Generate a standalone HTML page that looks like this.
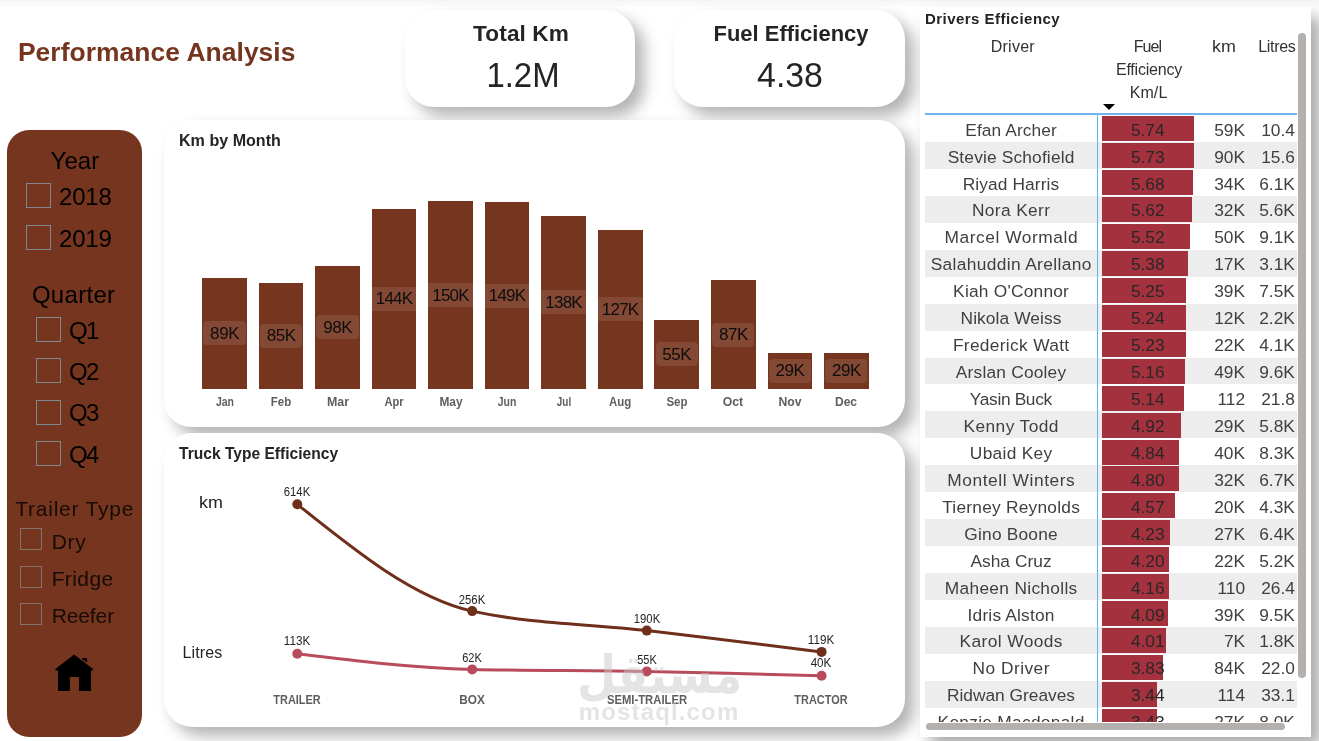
<!DOCTYPE html>
<html lang="en"><head><meta charset="utf-8"><title>Performance Analysis</title>
<style>
html,body{margin:0;padding:0;}
body{width:1319px;height:741px;overflow:hidden;background:#fff;position:relative;font-family:"Liberation Sans","DejaVu Sans",sans-serif;}
.t{position:absolute;white-space:nowrap;}
.abs{position:absolute;}
.card{position:absolute;background:#fff;box-shadow:9px 9px 15px rgba(0,0,0,.30);}
.cb{position:absolute;width:22px;height:22px;border:1px solid #8f8f8f;box-sizing:border-box;}
</style></head><body>

<div class="abs" style="left:0;top:0;width:1319px;height:7px;background:linear-gradient(#f2f2f2 0,#f8f8f8 2px,#fcfcfc 6px,#fff 7px)"></div>
<div class="t" style="top:38.85px;font-size:26.4px;line-height:26.4px;font-weight:700;color:#76351f;letter-spacing:0.066px;left:17.94px;">Performance Analysis</div>
<div class="card" style="left:405px;top:9.7px;width:230px;height:97px;border-radius:29px"></div>
<div class="card" style="left:674px;top:9.7px;width:231px;height:97px;border-radius:29px"></div>
<div class="t" style="top:22.67px;font-size:22.6px;line-height:22.6px;font-weight:700;color:#252423;letter-spacing:0.115px;left:521.06px;transform:translateX(-50%);transform-origin:center center;">Total Km</div>
<div class="t" style="top:58.35px;font-size:35.5px;line-height:35.5px;font-weight:400;color:#252423;left:522.70px;transform:translateX(-50%) scaleX(0.9266);transform-origin:center center;">1.2M</div>
<div class="t" style="top:22.57px;font-size:22.6px;line-height:22.6px;font-weight:700;color:#252423;left:791.00px;transform:translateX(-50%) scaleX(0.9715);transform-origin:center center;">Fuel Efficiency</div>
<div class="t" style="top:58.05px;font-size:35.5px;line-height:35.5px;font-weight:400;color:#252423;left:790.20px;transform:translateX(-50%) scaleX(0.9539);transform-origin:center center;">4.38</div>
<div class="abs" style="left:7px;top:130px;width:135px;height:606.8px;border-radius:22px;background:#76351f"></div>
<div class="t" style="top:149.28px;font-size:24px;line-height:24px;font-weight:400;color:#000;letter-spacing:0.142px;left:74.97px;transform:translateX(-50%);transform-origin:center center;">Year</div>
<div class="t" style="top:185.28px;font-size:24px;line-height:24px;font-weight:400;color:#000;letter-spacing:-0.19px;left:59.04px;">2018</div>
<div class="t" style="top:226.58px;font-size:24px;line-height:24px;font-weight:400;color:#000;letter-spacing:-0.19px;left:59.04px;">2019</div>
<div class="cb" style="left:26px;top:183px;width:25px;height:25px;border:1.5px solid #818990;"></div>
<div class="cb" style="left:26px;top:224.5px;width:25px;height:25px;border:1.5px solid #818990;"></div>
<div class="t" style="top:282.88px;font-size:24px;line-height:24px;font-weight:400;color:#000;letter-spacing:0.309px;left:73.65px;transform:translateX(-50%);transform-origin:center center;">Quarter</div>
<div class="t" style="top:318.98px;font-size:24px;line-height:24px;font-weight:400;color:#000;letter-spacing:-1.696px;left:69.04px;">Q1</div>
<div class="cb" style="left:36px;top:317.0px;width:25px;height:25px;border:1.5px solid #818990;"></div>
<div class="t" style="top:360.23px;font-size:24px;line-height:24px;font-weight:400;color:#000;letter-spacing:-1.696px;left:69.04px;">Q2</div>
<div class="cb" style="left:36px;top:358.4px;width:25px;height:25px;border:1.5px solid #818990;"></div>
<div class="t" style="top:401.48px;font-size:24px;line-height:24px;font-weight:400;color:#000;letter-spacing:-1.696px;left:69.04px;">Q3</div>
<div class="cb" style="left:36px;top:399.8px;width:25px;height:25px;border:1.5px solid #818990;"></div>
<div class="t" style="top:442.73px;font-size:24px;line-height:24px;font-weight:400;color:#000;letter-spacing:-1.696px;left:69.04px;">Q4</div>
<div class="cb" style="left:36px;top:441.2px;width:25px;height:25px;border:1.5px solid #818990;"></div>
<div class="t" style="top:497.62px;font-size:21px;line-height:21px;font-weight:400;color:#170b06;letter-spacing:0.761px;left:74.68px;transform:translateX(-50%);transform-origin:center center;">Trailer Type</div>
<div class="t" style="top:530.62px;font-size:21px;line-height:21px;font-weight:400;color:#170b06;letter-spacing:0.711px;left:51.66px;">Dry</div>
<div class="cb" style="left:20px;top:528.0px;border-color:#86726c"></div>
<div class="t" style="top:567.62px;font-size:21px;line-height:21px;font-weight:400;color:#170b06;letter-spacing:0.391px;left:51.66px;">Fridge</div>
<div class="cb" style="left:20px;top:565.7px;border-color:#86726c"></div>
<div class="t" style="top:604.62px;font-size:21px;line-height:21px;font-weight:400;color:#170b06;letter-spacing:-0.11px;left:51.66px;">Reefer</div>
<div class="cb" style="left:20px;top:603.4px;border-color:#86726c"></div>
<svg class="abs" style="left:50px;top:650px" width="50" height="45" viewBox="50 650 50 45">
<path d="M74.1 654.4 L55 669.3 L56.2 671.1 L58 669.8 L58 690.9 L69.9 690.9 L69.9 676.9 L79 676.9 L79 690.9 L91 690.9 L91 669.8 L92.2 671.1 L93.3 669.3 Z" fill="#000"/>
<path d="M82.1 658 L87.1 658 L87.1 662.5 L82.1 659.3 Z" fill="#000"/></svg>
<div class="card" style="left:164px;top:120px;width:741px;height:307.4px;border-radius:27px"></div>
<div class="t" style="top:132.26px;font-size:17.3px;line-height:17.3px;font-weight:700;color:#252423;left:179.21px;transform:scaleX(0.931);transform-origin:left center;">Km by Month</div>
<div class="abs" style="left:202.2px;top:277.5px;width:44.7px;height:111.4px;background:#76351f"></div>
<div class="abs" style="left:203.3px;top:321.2px;width:42.4px;height:24px;border-radius:4px;background:rgba(255,255,255,.10)"></div>
<div class="t" style="top:324.71px;font-size:17px;line-height:17px;font-weight:400;color:#0d0d0d;letter-spacing:-0.444px;left:224.58px;transform:translateX(-50%);transform-origin:center center;">89K</div>
<div class="t" style="top:395.84px;font-size:12px;line-height:12px;font-weight:700;color:#605e5c;left:224.55px;transform:translateX(-50%) scaleX(0.8723);transform-origin:center center;">Jan</div>
<div class="abs" style="left:258.7px;top:282.8px;width:44.7px;height:106.1px;background:#76351f"></div>
<div class="abs" style="left:259.8px;top:323.9px;width:42.4px;height:24px;border-radius:4px;background:rgba(255,255,255,.10)"></div>
<div class="t" style="top:327.36px;font-size:17px;line-height:17px;font-weight:400;color:#0d0d0d;letter-spacing:-0.444px;left:281.11px;transform:translateX(-50%);transform-origin:center center;">85K</div>
<div class="t" style="top:395.84px;font-size:12px;line-height:12px;font-weight:700;color:#605e5c;left:281.08px;transform:translateX(-50%) scaleX(0.9571);transform-origin:center center;">Feb</div>
<div class="abs" style="left:315.3px;top:266.0px;width:44.7px;height:122.9px;background:#76351f"></div>
<div class="abs" style="left:316.4px;top:315.4px;width:42.4px;height:24px;border-radius:4px;background:rgba(255,255,255,.10)"></div>
<div class="t" style="top:318.96px;font-size:17px;line-height:17px;font-weight:400;color:#0d0d0d;letter-spacing:-0.444px;left:337.64px;transform:translateX(-50%);transform-origin:center center;">98K</div>
<div class="t" style="top:395.84px;font-size:12px;line-height:12px;font-weight:700;color:#605e5c;left:337.61px;transform:translateX(-50%) scaleX(1.0353);transform-origin:center center;">Mar</div>
<div class="abs" style="left:371.8px;top:208.9px;width:44.7px;height:180.0px;background:#76351f"></div>
<div class="abs" style="left:371.8px;top:286.9px;width:44.7px;height:24px;background:rgba(255,255,255,.10)"></div>
<div class="t" style="top:290.41px;font-size:17px;line-height:17px;font-weight:400;color:#0d0d0d;letter-spacing:-0.781px;left:394.00px;transform:translateX(-50%);transform-origin:center center;">144K</div>
<div class="t" style="top:395.84px;font-size:12px;line-height:12px;font-weight:700;color:#605e5c;left:394.14px;transform:translateX(-50%) scaleX(0.9286);transform-origin:center center;">Apr</div>
<div class="abs" style="left:428.3px;top:201.1px;width:44.7px;height:187.8px;background:#76351f"></div>
<div class="abs" style="left:428.3px;top:283.0px;width:44.7px;height:24px;background:rgba(255,255,255,.10)"></div>
<div class="t" style="top:286.51px;font-size:17px;line-height:17px;font-weight:400;color:#0d0d0d;letter-spacing:-0.781px;left:450.53px;transform:translateX(-50%);transform-origin:center center;">150K</div>
<div class="t" style="top:395.84px;font-size:12px;line-height:12px;font-weight:700;color:#605e5c;left:450.67px;transform:translateX(-50%) scaleX(0.9918);transform-origin:center center;">May</div>
<div class="abs" style="left:484.8px;top:202.2px;width:44.7px;height:186.7px;background:#76351f"></div>
<div class="abs" style="left:484.8px;top:283.5px;width:44.7px;height:24px;background:rgba(255,255,255,.10)"></div>
<div class="t" style="top:287.06px;font-size:17px;line-height:17px;font-weight:400;color:#0d0d0d;letter-spacing:-0.781px;left:507.06px;transform:translateX(-50%);transform-origin:center center;">149K</div>
<div class="t" style="top:395.84px;font-size:12px;line-height:12px;font-weight:700;color:#605e5c;left:507.20px;transform:translateX(-50%) scaleX(0.8737);transform-origin:center center;">Jun</div>
<div class="abs" style="left:541.4px;top:215.6px;width:44.7px;height:173.3px;background:#76351f"></div>
<div class="abs" style="left:541.4px;top:290.2px;width:44.7px;height:24px;background:rgba(255,255,255,.10)"></div>
<div class="t" style="top:293.76px;font-size:17px;line-height:17px;font-weight:400;color:#0d0d0d;letter-spacing:-0.781px;left:563.59px;transform:translateX(-50%);transform-origin:center center;">138K</div>
<div class="t" style="top:395.84px;font-size:12px;line-height:12px;font-weight:700;color:#605e5c;left:563.73px;transform:translateX(-50%) scaleX(0.8304);transform-origin:center center;">Jul</div>
<div class="abs" style="left:597.9px;top:229.8px;width:44.7px;height:159.1px;background:#76351f"></div>
<div class="abs" style="left:597.9px;top:297.4px;width:44.7px;height:24px;background:rgba(255,255,255,.10)"></div>
<div class="t" style="top:300.86px;font-size:17px;line-height:17px;font-weight:400;color:#0d0d0d;letter-spacing:-0.781px;left:620.12px;transform:translateX(-50%);transform-origin:center center;">127K</div>
<div class="t" style="top:395.84px;font-size:12px;line-height:12px;font-weight:700;color:#605e5c;left:620.26px;transform:translateX(-50%) scaleX(0.9523);transform-origin:center center;">Aug</div>
<div class="abs" style="left:654.4px;top:319.9px;width:44.7px;height:69.0px;background:#76351f"></div>
<div class="abs" style="left:655.5px;top:342.4px;width:42.4px;height:24px;border-radius:4px;background:rgba(255,255,255,.10)"></div>
<div class="t" style="top:345.91px;font-size:17px;line-height:17px;font-weight:400;color:#0d0d0d;letter-spacing:-0.444px;left:676.82px;transform:translateX(-50%);transform-origin:center center;">55K</div>
<div class="t" style="top:395.84px;font-size:12px;line-height:12px;font-weight:700;color:#605e5c;left:676.79px;transform:translateX(-50%) scaleX(0.9597);transform-origin:center center;">Sep</div>
<div class="abs" style="left:711.0px;top:280.1px;width:44.7px;height:108.8px;background:#76351f"></div>
<div class="abs" style="left:712.1px;top:322.5px;width:42.4px;height:24px;border-radius:4px;background:rgba(255,255,255,.10)"></div>
<div class="t" style="top:326.01px;font-size:17px;line-height:17px;font-weight:400;color:#0d0d0d;letter-spacing:-0.444px;left:733.35px;transform:translateX(-50%);transform-origin:center center;">87K</div>
<div class="t" style="top:395.84px;font-size:12px;line-height:12px;font-weight:700;color:#605e5c;left:733.32px;transform:translateX(-50%) scaleX(1.0187);transform-origin:center center;">Oct</div>
<div class="abs" style="left:767.5px;top:352.9px;width:44.7px;height:36.0px;background:#76351f"></div>
<div class="abs" style="left:768.6px;top:358.9px;width:42.4px;height:24px;border-radius:4px;background:rgba(255,255,255,.10)"></div>
<div class="t" style="top:362.41px;font-size:17px;line-height:17px;font-weight:400;color:#0d0d0d;letter-spacing:-0.444px;left:789.88px;transform:translateX(-50%);transform-origin:center center;">29K</div>
<div class="t" style="top:395.84px;font-size:12px;line-height:12px;font-weight:700;color:#605e5c;left:789.85px;transform:translateX(-50%) scaleX(1.018);transform-origin:center center;">Nov</div>
<div class="abs" style="left:824.0px;top:352.9px;width:44.7px;height:36.0px;background:#76351f"></div>
<div class="abs" style="left:825.1px;top:358.9px;width:42.4px;height:24px;border-radius:4px;background:rgba(255,255,255,.10)"></div>
<div class="t" style="top:362.41px;font-size:17px;line-height:17px;font-weight:400;color:#0d0d0d;letter-spacing:-0.444px;left:846.41px;transform:translateX(-50%);transform-origin:center center;">29K</div>
<div class="t" style="top:395.84px;font-size:12px;line-height:12px;font-weight:700;color:#605e5c;left:846.38px;transform:translateX(-50%) scaleX(1.0022);transform-origin:center center;">Dec</div>
<div class="card" style="left:164px;top:433px;width:741px;height:293.9px;border-radius:28px"></div>
<div class="t" style="top:445.16px;font-size:17.3px;line-height:17.3px;font-weight:700;color:#252423;left:178.91px;transform:scaleX(0.9018);transform-origin:left center;">Truck Type Efficiency</div>
<div class="t" style="top:494.86px;font-size:16px;line-height:16px;font-weight:400;color:#252423;left:198.76px;transform:scaleX(1.12);transform-origin:left center;">km</div>
<div class="t" style="top:644.86px;font-size:16px;line-height:16px;font-weight:400;color:#252423;letter-spacing:0.091px;left:182.56px;">Litres</div>
<svg class="abs" style="left:0;top:0" width="1319" height="741" viewBox="0 0 1319 741"><path d="M297.3,504.3 C355.6,551.2 413.9,598.1 472.2,611.1 C530.4,624.1 588.6,623.8 646.8,630.6 C705.1,637.4 763.3,644.7 821.6,651.9" fill="none" stroke="#6f2f1a" stroke-width="3"/><path d="M297.3,653.7 C355.6,660.9 413.9,668.1 472.2,669.4 C530.4,670.7 588.6,670.3 646.8,671.4 C705.1,672.5 763.3,674.1 821.6,675.8" fill="none" stroke="#b84c5c" stroke-width="3"/><circle cx="297.3" cy="504.3" r="5" fill="#6f2f1a"/><circle cx="472.2" cy="611.1" r="5" fill="#6f2f1a"/><circle cx="646.8" cy="630.6" r="5" fill="#6f2f1a"/><circle cx="821.6" cy="651.9" r="5" fill="#6f2f1a"/><circle cx="297.3" cy="653.7" r="5" fill="#b84c5c"/><circle cx="472.2" cy="669.4" r="5" fill="#b84c5c"/><circle cx="646.8" cy="671.4" r="5" fill="#b84c5c"/><circle cx="821.6" cy="675.8" r="5" fill="#b84c5c"/></svg>
<div class="t" style="top:485.84px;font-size:12px;line-height:12px;font-weight:400;color:#252423;left:297.10px;transform:translateX(-50%) scaleX(0.9422);transform-origin:center center;">614K</div>
<div class="t" style="top:593.84px;font-size:12px;line-height:12px;font-weight:400;color:#252423;left:472.00px;transform:translateX(-50%) scaleX(0.9422);transform-origin:center center;">256K</div>
<div class="t" style="top:612.74px;font-size:12px;line-height:12px;font-weight:400;color:#252423;left:646.60px;transform:translateX(-50%) scaleX(0.9422);transform-origin:center center;">190K</div>
<div class="t" style="top:634.34px;font-size:12px;line-height:12px;font-weight:400;color:#252423;left:821.40px;transform:translateX(-50%) scaleX(0.9742);transform-origin:center center;">119K</div>
<div class="t" style="top:635.34px;font-size:12px;line-height:12px;font-weight:400;color:#252423;left:297.10px;transform:translateX(-50%) scaleX(0.9742);transform-origin:center center;">113K</div>
<div class="t" style="top:651.84px;font-size:12px;line-height:12px;font-weight:400;color:#252423;left:472.00px;transform:translateX(-50%) scaleX(0.9219);transform-origin:center center;">62K</div>
<div class="t" style="top:653.54px;font-size:12px;line-height:12px;font-weight:400;color:#252423;left:646.60px;transform:translateX(-50%) scaleX(0.9121);transform-origin:center center;">55K</div>
<div class="t" style="top:657.34px;font-size:12px;line-height:12px;font-weight:400;color:#252423;left:821.40px;transform:translateX(-50%) scaleX(0.971);transform-origin:center center;">40K</div>
<div class="t" style="top:693.94px;font-size:12px;line-height:12px;font-weight:700;color:#605e5c;left:297.10px;transform:translateX(-50%) scaleX(0.9111);transform-origin:center center;">TRAILER</div>
<div class="t" style="top:693.94px;font-size:12px;line-height:12px;font-weight:700;color:#605e5c;left:472.00px;transform:translateX(-50%) scaleX(0.9823);transform-origin:center center;">BOX</div>
<div class="t" style="top:693.94px;font-size:12px;line-height:12px;font-weight:700;color:#605e5c;left:646.60px;transform:translateX(-50%) scaleX(0.9387);transform-origin:center center;">SEMI-TRAILER</div>
<div class="t" style="top:693.94px;font-size:12px;line-height:12px;font-weight:700;color:#605e5c;left:821.40px;transform:translateX(-50%) scaleX(0.9116);transform-origin:center center;">TRACTOR</div>
<div class="t" style="left:576.5px;top:642.1px;font-size:56px;line-height:70px;font-weight:700;color:rgb(200,200,200);opacity:.48;font-family:'DejaVu Sans',sans-serif;transform-origin:0 0;transform:scale(0.806,0.945)" dir="rtl">مستقل</div>
<div class="t" style="top:699.58px;font-size:24px;line-height:24px;font-weight:700;color:rgb(200,200,200);letter-spacing:1.149px;left:659.07px;transform:translateX(-50%);transform-origin:center center;opacity:.48;">mostaql.com</div>
<div class="card" style="left:920px;top:6.6px;width:391.2px;height:730.4px;box-shadow:10px 10px 15px rgba(0,0,0,.33)"></div>
<div class="t" style="top:11.30px;font-size:15px;line-height:15px;font-weight:700;color:#252423;letter-spacing:0.475px;left:924.90px;">Drivers Efficiency</div>
<div class="t" style="top:39.46px;font-size:16px;line-height:16px;font-weight:400;color:#333231;letter-spacing:0.243px;left:1012.82px;transform:translateX(-50%);transform-origin:center center;">Driver</div>
<div class="t" style="top:39.26px;font-size:16px;line-height:16px;font-weight:400;color:#333231;letter-spacing:-0.948px;left:1147.43px;transform:translateX(-50%);transform-origin:center center;">Fuel</div>
<div class="t" style="top:62.16px;font-size:16px;line-height:16px;font-weight:400;color:#333231;letter-spacing:-0.2px;left:1149.00px;transform:translateX(-50%);transform-origin:center center;">Efficiency</div>
<div class="t" style="top:84.86px;font-size:16px;line-height:16px;font-weight:400;color:#333231;letter-spacing:0.079px;left:1148.54px;transform:translateX(-50%);transform-origin:center center;">Km/L</div>
<div class="t" style="top:39.26px;font-size:16px;line-height:16px;font-weight:400;color:#333231;left:1224.30px;transform:translateX(-50%) scaleX(1.12);transform-origin:center center;">km</div>
<div class="t" style="top:39.26px;font-size:16px;line-height:16px;font-weight:400;color:#333231;letter-spacing:-0.349px;left:1276.83px;transform:translateX(-50%);transform-origin:center center;">Litres</div>
<div class="abs" style="left:1103px;top:104px;width:0;height:0;border-left:6px solid transparent;border-right:6px solid transparent;border-top:6px solid #000"></div>
<div class="abs" style="left:920px;top:114px;width:378px;height:608px;overflow:hidden">
<div class="abs" style="left:182.3px;top:2.10px;width:91.6px;height:25px;background:#a4323e"></div>
<div class="t" style="top:7.63px;font-size:17.33px;line-height:17.33px;font-weight:400;color:#403f3e;letter-spacing:0.093px;left:91.05px;transform:translateX(-50%);transform-origin:center center;">Efan Archer</div>
<div class="t" style="top:7.63px;font-size:17.33px;line-height:17.33px;font-weight:400;color:#2a2627;left:227.75px;transform:translateX(-50%);transform-origin:center center;">5.74</div>
<div class="t" style="top:7.63px;font-size:17.33px;line-height:17.33px;font-weight:400;color:#403f3e;left:325.09px;transform:translateX(-100%);transform-origin:right center;">59K</div>
<div class="t" style="top:7.63px;font-size:17.33px;line-height:17.33px;font-weight:400;color:#403f3e;left:374.89px;transform:translateX(-100%);transform-origin:right center;">10.4</div>
<div class="abs" style="left:5px;top:27.95px;width:372.3px;height:26.95px;background:#ededed"></div>
<div class="abs" style="left:182.3px;top:29.05px;width:91.4px;height:25px;background:#a4323e"></div>
<div class="t" style="top:34.57px;font-size:17.33px;line-height:17.33px;font-weight:400;color:#403f3e;letter-spacing:0.161px;left:91.08px;transform:translateX(-50%);transform-origin:center center;">Stevie Schofield</div>
<div class="t" style="top:34.57px;font-size:17.33px;line-height:17.33px;font-weight:400;color:#2a2627;left:227.75px;transform:translateX(-50%);transform-origin:center center;">5.73</div>
<div class="t" style="top:34.57px;font-size:17.33px;line-height:17.33px;font-weight:400;color:#403f3e;left:325.09px;transform:translateX(-100%);transform-origin:right center;">90K</div>
<div class="t" style="top:34.57px;font-size:17.33px;line-height:17.33px;font-weight:400;color:#403f3e;left:374.89px;transform:translateX(-100%);transform-origin:right center;">15.6</div>
<div class="abs" style="left:182.3px;top:56.00px;width:90.6px;height:25px;background:#a4323e"></div>
<div class="t" style="top:61.51px;font-size:17.33px;line-height:17.33px;font-weight:400;color:#403f3e;letter-spacing:0.105px;left:91.05px;transform:translateX(-50%);transform-origin:center center;">Riyad Harris</div>
<div class="t" style="top:61.51px;font-size:17.33px;line-height:17.33px;font-weight:400;color:#2a2627;left:227.75px;transform:translateX(-50%);transform-origin:center center;">5.68</div>
<div class="t" style="top:61.51px;font-size:17.33px;line-height:17.33px;font-weight:400;color:#403f3e;left:325.09px;transform:translateX(-100%);transform-origin:right center;">34K</div>
<div class="t" style="top:61.51px;font-size:17.33px;line-height:17.33px;font-weight:400;color:#403f3e;left:374.89px;transform:translateX(-100%);transform-origin:right center;">6.1K</div>
<div class="abs" style="left:5px;top:81.85px;width:372.3px;height:26.95px;background:#ededed"></div>
<div class="abs" style="left:182.3px;top:82.95px;width:89.7px;height:25px;background:#a4323e"></div>
<div class="t" style="top:88.45px;font-size:17.33px;line-height:17.33px;font-weight:400;color:#403f3e;letter-spacing:0.359px;left:91.18px;transform:translateX(-50%);transform-origin:center center;">Nora Kerr</div>
<div class="t" style="top:88.45px;font-size:17.33px;line-height:17.33px;font-weight:400;color:#2a2627;left:227.75px;transform:translateX(-50%);transform-origin:center center;">5.62</div>
<div class="t" style="top:88.45px;font-size:17.33px;line-height:17.33px;font-weight:400;color:#403f3e;left:325.09px;transform:translateX(-100%);transform-origin:right center;">32K</div>
<div class="t" style="top:88.45px;font-size:17.33px;line-height:17.33px;font-weight:400;color:#403f3e;left:374.89px;transform:translateX(-100%);transform-origin:right center;">5.6K</div>
<div class="abs" style="left:182.3px;top:109.90px;width:88.1px;height:25px;background:#a4323e"></div>
<div class="t" style="top:115.39px;font-size:17.33px;line-height:17.33px;font-weight:400;color:#403f3e;letter-spacing:0.558px;left:91.28px;transform:translateX(-50%);transform-origin:center center;">Marcel Wormald</div>
<div class="t" style="top:115.39px;font-size:17.33px;line-height:17.33px;font-weight:400;color:#2a2627;left:227.75px;transform:translateX(-50%);transform-origin:center center;">5.52</div>
<div class="t" style="top:115.39px;font-size:17.33px;line-height:17.33px;font-weight:400;color:#403f3e;left:325.09px;transform:translateX(-100%);transform-origin:right center;">50K</div>
<div class="t" style="top:115.39px;font-size:17.33px;line-height:17.33px;font-weight:400;color:#403f3e;left:374.89px;transform:translateX(-100%);transform-origin:right center;">9.1K</div>
<div class="abs" style="left:5px;top:135.75px;width:372.3px;height:26.95px;background:#ededed"></div>
<div class="abs" style="left:182.3px;top:136.85px;width:85.9px;height:25px;background:#a4323e"></div>
<div class="t" style="top:142.33px;font-size:17.33px;line-height:17.33px;font-weight:400;color:#403f3e;letter-spacing:0.357px;left:91.18px;transform:translateX(-50%);transform-origin:center center;">Salahuddin Arellano</div>
<div class="t" style="top:142.33px;font-size:17.33px;line-height:17.33px;font-weight:400;color:#2a2627;left:227.75px;transform:translateX(-50%);transform-origin:center center;">5.38</div>
<div class="t" style="top:142.33px;font-size:17.33px;line-height:17.33px;font-weight:400;color:#403f3e;left:325.09px;transform:translateX(-100%);transform-origin:right center;">17K</div>
<div class="t" style="top:142.33px;font-size:17.33px;line-height:17.33px;font-weight:400;color:#403f3e;left:374.89px;transform:translateX(-100%);transform-origin:right center;">3.1K</div>
<div class="abs" style="left:182.3px;top:163.80px;width:83.8px;height:25px;background:#a4323e"></div>
<div class="t" style="top:169.27px;font-size:17.33px;line-height:17.33px;font-weight:400;color:#403f3e;letter-spacing:0.222px;left:91.11px;transform:translateX(-50%);transform-origin:center center;">Kiah O&#x27;Connor</div>
<div class="t" style="top:169.27px;font-size:17.33px;line-height:17.33px;font-weight:400;color:#2a2627;left:227.75px;transform:translateX(-50%);transform-origin:center center;">5.25</div>
<div class="t" style="top:169.27px;font-size:17.33px;line-height:17.33px;font-weight:400;color:#403f3e;left:325.09px;transform:translateX(-100%);transform-origin:right center;">39K</div>
<div class="t" style="top:169.27px;font-size:17.33px;line-height:17.33px;font-weight:400;color:#403f3e;left:374.89px;transform:translateX(-100%);transform-origin:right center;">7.5K</div>
<div class="abs" style="left:5px;top:189.65px;width:372.3px;height:26.95px;background:#ededed"></div>
<div class="abs" style="left:182.3px;top:190.75px;width:83.6px;height:25px;background:#a4323e"></div>
<div class="t" style="top:196.21px;font-size:17.33px;line-height:17.33px;font-weight:400;color:#403f3e;letter-spacing:0.096px;left:91.05px;transform:translateX(-50%);transform-origin:center center;">Nikola Weiss</div>
<div class="t" style="top:196.21px;font-size:17.33px;line-height:17.33px;font-weight:400;color:#2a2627;left:227.75px;transform:translateX(-50%);transform-origin:center center;">5.24</div>
<div class="t" style="top:196.21px;font-size:17.33px;line-height:17.33px;font-weight:400;color:#403f3e;left:325.09px;transform:translateX(-100%);transform-origin:right center;">12K</div>
<div class="t" style="top:196.21px;font-size:17.33px;line-height:17.33px;font-weight:400;color:#403f3e;left:374.89px;transform:translateX(-100%);transform-origin:right center;">2.2K</div>
<div class="abs" style="left:182.3px;top:217.70px;width:83.5px;height:25px;background:#a4323e"></div>
<div class="t" style="top:223.15px;font-size:17.33px;line-height:17.33px;font-weight:400;color:#403f3e;letter-spacing:0.321px;left:91.16px;transform:translateX(-50%);transform-origin:center center;">Frederick Watt</div>
<div class="t" style="top:223.15px;font-size:17.33px;line-height:17.33px;font-weight:400;color:#2a2627;left:227.75px;transform:translateX(-50%);transform-origin:center center;">5.23</div>
<div class="t" style="top:223.15px;font-size:17.33px;line-height:17.33px;font-weight:400;color:#403f3e;left:325.09px;transform:translateX(-100%);transform-origin:right center;">22K</div>
<div class="t" style="top:223.15px;font-size:17.33px;line-height:17.33px;font-weight:400;color:#403f3e;left:374.89px;transform:translateX(-100%);transform-origin:right center;">4.1K</div>
<div class="abs" style="left:5px;top:243.55px;width:372.3px;height:26.95px;background:#ededed"></div>
<div class="abs" style="left:182.3px;top:244.65px;width:82.3px;height:25px;background:#a4323e"></div>
<div class="t" style="top:250.09px;font-size:17.33px;line-height:17.33px;font-weight:400;color:#403f3e;letter-spacing:0.2px;left:91.10px;transform:translateX(-50%);transform-origin:center center;">Arslan Cooley</div>
<div class="t" style="top:250.09px;font-size:17.33px;line-height:17.33px;font-weight:400;color:#2a2627;left:227.75px;transform:translateX(-50%);transform-origin:center center;">5.16</div>
<div class="t" style="top:250.09px;font-size:17.33px;line-height:17.33px;font-weight:400;color:#403f3e;left:325.09px;transform:translateX(-100%);transform-origin:right center;">49K</div>
<div class="t" style="top:250.09px;font-size:17.33px;line-height:17.33px;font-weight:400;color:#403f3e;left:374.89px;transform:translateX(-100%);transform-origin:right center;">9.6K</div>
<div class="abs" style="left:182.3px;top:271.60px;width:82.0px;height:25px;background:#a4323e"></div>
<div class="t" style="top:277.03px;font-size:17.33px;line-height:17.33px;font-weight:400;color:#403f3e;letter-spacing:-0.347px;left:90.83px;transform:translateX(-50%);transform-origin:center center;">Yasin Buck</div>
<div class="t" style="top:277.03px;font-size:17.33px;line-height:17.33px;font-weight:400;color:#2a2627;left:227.75px;transform:translateX(-50%);transform-origin:center center;">5.14</div>
<div class="t" style="top:277.03px;font-size:17.33px;line-height:17.33px;font-weight:400;color:#403f3e;left:325.09px;transform:translateX(-100%);transform-origin:right center;">112</div>
<div class="t" style="top:277.03px;font-size:17.33px;line-height:17.33px;font-weight:400;color:#403f3e;left:374.89px;transform:translateX(-100%);transform-origin:right center;">21.8</div>
<div class="abs" style="left:5px;top:297.45px;width:372.3px;height:26.95px;background:#ededed"></div>
<div class="abs" style="left:182.3px;top:298.55px;width:78.5px;height:25px;background:#a4323e"></div>
<div class="t" style="top:303.97px;font-size:17.33px;line-height:17.33px;font-weight:400;color:#403f3e;letter-spacing:0.396px;left:91.20px;transform:translateX(-50%);transform-origin:center center;">Kenny Todd</div>
<div class="t" style="top:303.97px;font-size:17.33px;line-height:17.33px;font-weight:400;color:#2a2627;left:227.75px;transform:translateX(-50%);transform-origin:center center;">4.92</div>
<div class="t" style="top:303.97px;font-size:17.33px;line-height:17.33px;font-weight:400;color:#403f3e;left:325.09px;transform:translateX(-100%);transform-origin:right center;">29K</div>
<div class="t" style="top:303.97px;font-size:17.33px;line-height:17.33px;font-weight:400;color:#403f3e;left:374.89px;transform:translateX(-100%);transform-origin:right center;">5.8K</div>
<div class="abs" style="left:182.3px;top:325.50px;width:77.2px;height:25px;background:#a4323e"></div>
<div class="t" style="top:330.91px;font-size:17.33px;line-height:17.33px;font-weight:400;color:#403f3e;letter-spacing:0.291px;left:91.15px;transform:translateX(-50%);transform-origin:center center;">Ubaid Key</div>
<div class="t" style="top:330.91px;font-size:17.33px;line-height:17.33px;font-weight:400;color:#2a2627;left:227.75px;transform:translateX(-50%);transform-origin:center center;">4.84</div>
<div class="t" style="top:330.91px;font-size:17.33px;line-height:17.33px;font-weight:400;color:#403f3e;left:325.09px;transform:translateX(-100%);transform-origin:right center;">40K</div>
<div class="t" style="top:330.91px;font-size:17.33px;line-height:17.33px;font-weight:400;color:#403f3e;left:374.89px;transform:translateX(-100%);transform-origin:right center;">8.3K</div>
<div class="abs" style="left:5px;top:351.35px;width:372.3px;height:26.95px;background:#ededed"></div>
<div class="abs" style="left:182.3px;top:352.45px;width:76.6px;height:25px;background:#a4323e"></div>
<div class="t" style="top:357.85px;font-size:17.33px;line-height:17.33px;font-weight:400;color:#403f3e;letter-spacing:0.584px;left:91.29px;transform:translateX(-50%);transform-origin:center center;">Montell Winters</div>
<div class="t" style="top:357.85px;font-size:17.33px;line-height:17.33px;font-weight:400;color:#2a2627;left:227.75px;transform:translateX(-50%);transform-origin:center center;">4.80</div>
<div class="t" style="top:357.85px;font-size:17.33px;line-height:17.33px;font-weight:400;color:#403f3e;left:325.09px;transform:translateX(-100%);transform-origin:right center;">32K</div>
<div class="t" style="top:357.85px;font-size:17.33px;line-height:17.33px;font-weight:400;color:#403f3e;left:374.89px;transform:translateX(-100%);transform-origin:right center;">6.7K</div>
<div class="abs" style="left:182.3px;top:379.40px;width:72.9px;height:25px;background:#a4323e"></div>
<div class="t" style="top:384.79px;font-size:17.33px;line-height:17.33px;font-weight:400;color:#403f3e;letter-spacing:0.232px;left:91.12px;transform:translateX(-50%);transform-origin:center center;">Tierney Reynolds</div>
<div class="t" style="top:384.79px;font-size:17.33px;line-height:17.33px;font-weight:400;color:#2a2627;left:227.75px;transform:translateX(-50%);transform-origin:center center;">4.57</div>
<div class="t" style="top:384.79px;font-size:17.33px;line-height:17.33px;font-weight:400;color:#403f3e;left:325.09px;transform:translateX(-100%);transform-origin:right center;">20K</div>
<div class="t" style="top:384.79px;font-size:17.33px;line-height:17.33px;font-weight:400;color:#403f3e;left:374.89px;transform:translateX(-100%);transform-origin:right center;">4.3K</div>
<div class="abs" style="left:5px;top:405.25px;width:372.3px;height:26.95px;background:#ededed"></div>
<div class="abs" style="left:182.3px;top:406.35px;width:67.5px;height:25px;background:#a4323e"></div>
<div class="t" style="top:411.73px;font-size:17.33px;line-height:17.33px;font-weight:400;color:#403f3e;letter-spacing:0.195px;left:91.10px;transform:translateX(-50%);transform-origin:center center;">Gino Boone</div>
<div class="t" style="top:411.73px;font-size:17.33px;line-height:17.33px;font-weight:400;color:#2a2627;left:227.75px;transform:translateX(-50%);transform-origin:center center;">4.23</div>
<div class="t" style="top:411.73px;font-size:17.33px;line-height:17.33px;font-weight:400;color:#403f3e;left:325.09px;transform:translateX(-100%);transform-origin:right center;">27K</div>
<div class="t" style="top:411.73px;font-size:17.33px;line-height:17.33px;font-weight:400;color:#403f3e;left:374.89px;transform:translateX(-100%);transform-origin:right center;">6.4K</div>
<div class="abs" style="left:182.3px;top:433.30px;width:67.0px;height:25px;background:#a4323e"></div>
<div class="t" style="top:438.67px;font-size:17.33px;line-height:17.33px;font-weight:400;color:#403f3e;letter-spacing:0.035px;left:91.02px;transform:translateX(-50%);transform-origin:center center;">Asha Cruz</div>
<div class="t" style="top:438.67px;font-size:17.33px;line-height:17.33px;font-weight:400;color:#2a2627;left:227.75px;transform:translateX(-50%);transform-origin:center center;">4.20</div>
<div class="t" style="top:438.67px;font-size:17.33px;line-height:17.33px;font-weight:400;color:#403f3e;left:325.09px;transform:translateX(-100%);transform-origin:right center;">22K</div>
<div class="t" style="top:438.67px;font-size:17.33px;line-height:17.33px;font-weight:400;color:#403f3e;left:374.89px;transform:translateX(-100%);transform-origin:right center;">5.2K</div>
<div class="abs" style="left:5px;top:459.15px;width:372.3px;height:26.95px;background:#ededed"></div>
<div class="abs" style="left:182.3px;top:460.25px;width:66.4px;height:25px;background:#a4323e"></div>
<div class="t" style="top:465.61px;font-size:17.33px;line-height:17.33px;font-weight:400;color:#403f3e;letter-spacing:0.319px;left:91.16px;transform:translateX(-50%);transform-origin:center center;">Maheen Nicholls</div>
<div class="t" style="top:465.61px;font-size:17.33px;line-height:17.33px;font-weight:400;color:#2a2627;left:227.75px;transform:translateX(-50%);transform-origin:center center;">4.16</div>
<div class="t" style="top:465.61px;font-size:17.33px;line-height:17.33px;font-weight:400;color:#403f3e;left:325.09px;transform:translateX(-100%);transform-origin:right center;">110</div>
<div class="t" style="top:465.61px;font-size:17.33px;line-height:17.33px;font-weight:400;color:#403f3e;left:374.89px;transform:translateX(-100%);transform-origin:right center;">26.4</div>
<div class="abs" style="left:182.3px;top:487.20px;width:65.3px;height:25px;background:#a4323e"></div>
<div class="t" style="top:492.55px;font-size:17.33px;line-height:17.33px;font-weight:400;color:#403f3e;letter-spacing:0.184px;left:91.09px;transform:translateX(-50%);transform-origin:center center;">Idris Alston</div>
<div class="t" style="top:492.55px;font-size:17.33px;line-height:17.33px;font-weight:400;color:#2a2627;left:227.75px;transform:translateX(-50%);transform-origin:center center;">4.09</div>
<div class="t" style="top:492.55px;font-size:17.33px;line-height:17.33px;font-weight:400;color:#403f3e;left:325.09px;transform:translateX(-100%);transform-origin:right center;">39K</div>
<div class="t" style="top:492.55px;font-size:17.33px;line-height:17.33px;font-weight:400;color:#403f3e;left:374.89px;transform:translateX(-100%);transform-origin:right center;">9.5K</div>
<div class="abs" style="left:5px;top:513.05px;width:372.3px;height:26.95px;background:#ededed"></div>
<div class="abs" style="left:182.3px;top:514.15px;width:64.0px;height:25px;background:#a4323e"></div>
<div class="t" style="top:519.49px;font-size:17.33px;line-height:17.33px;font-weight:400;color:#403f3e;letter-spacing:0.389px;left:91.19px;transform:translateX(-50%);transform-origin:center center;">Karol Woods</div>
<div class="t" style="top:519.49px;font-size:17.33px;line-height:17.33px;font-weight:400;color:#2a2627;left:227.75px;transform:translateX(-50%);transform-origin:center center;">4.01</div>
<div class="t" style="top:519.49px;font-size:17.33px;line-height:17.33px;font-weight:400;color:#403f3e;left:325.09px;transform:translateX(-100%);transform-origin:right center;">7K</div>
<div class="t" style="top:519.49px;font-size:17.33px;line-height:17.33px;font-weight:400;color:#403f3e;left:374.89px;transform:translateX(-100%);transform-origin:right center;">1.8K</div>
<div class="abs" style="left:182.3px;top:541.10px;width:61.1px;height:25px;background:#a4323e"></div>
<div class="t" style="top:546.43px;font-size:17.33px;line-height:17.33px;font-weight:400;color:#403f3e;letter-spacing:0.476px;left:91.24px;transform:translateX(-50%);transform-origin:center center;">No Driver</div>
<div class="t" style="top:546.43px;font-size:17.33px;line-height:17.33px;font-weight:400;color:#2a2627;left:227.75px;transform:translateX(-50%);transform-origin:center center;">3.83</div>
<div class="t" style="top:546.43px;font-size:17.33px;line-height:17.33px;font-weight:400;color:#403f3e;left:325.09px;transform:translateX(-100%);transform-origin:right center;">84K</div>
<div class="t" style="top:546.43px;font-size:17.33px;line-height:17.33px;font-weight:400;color:#403f3e;left:374.89px;transform:translateX(-100%);transform-origin:right center;">22.0</div>
<div class="abs" style="left:5px;top:566.95px;width:372.3px;height:26.95px;background:#ededed"></div>
<div class="abs" style="left:182.3px;top:568.05px;width:54.9px;height:25px;background:#a4323e"></div>
<div class="t" style="top:573.37px;font-size:17.33px;line-height:17.33px;font-weight:400;color:#403f3e;letter-spacing:-0.009px;left:91.00px;transform:translateX(-50%);transform-origin:center center;">Ridwan Greaves</div>
<div class="t" style="top:573.37px;font-size:17.33px;line-height:17.33px;font-weight:400;color:#2a2627;left:227.75px;transform:translateX(-50%);transform-origin:center center;">3.44</div>
<div class="t" style="top:573.37px;font-size:17.33px;line-height:17.33px;font-weight:400;color:#403f3e;left:325.09px;transform:translateX(-100%);transform-origin:right center;">114</div>
<div class="t" style="top:573.37px;font-size:17.33px;line-height:17.33px;font-weight:400;color:#403f3e;left:374.89px;transform:translateX(-100%);transform-origin:right center;">33.1</div>
<div class="abs" style="left:182.3px;top:595.00px;width:54.7px;height:25px;background:#a4323e"></div>
<div class="t" style="top:600.31px;font-size:17.33px;line-height:17.33px;font-weight:400;color:#403f3e;letter-spacing:0.28px;left:91.14px;transform:translateX(-50%);transform-origin:center center;">Kenzie Macdonald</div>
<div class="t" style="top:600.31px;font-size:17.33px;line-height:17.33px;font-weight:400;color:#2a2627;left:227.75px;transform:translateX(-50%);transform-origin:center center;">3.43</div>
<div class="t" style="top:600.31px;font-size:17.33px;line-height:17.33px;font-weight:400;color:#403f3e;left:325.09px;transform:translateX(-100%);transform-origin:right center;">27K</div>
<div class="t" style="top:600.31px;font-size:17.33px;line-height:17.33px;font-weight:400;color:#403f3e;left:374.89px;transform:translateX(-100%);transform-origin:right center;">8.0K</div>
<div class="abs" style="left:176.6px;top:0;width:1.7px;height:608px;background:#6ab0ed"></div>
</div>
<div class="abs" style="left:925px;top:113.4px;width:372.3px;height:1.6px;background:#72b4ee"></div>
<div class="abs" style="left:1298.2px;top:33px;width:7.5px;height:645px;border-radius:4px;background:#b3b0ad"></div>
<div class="abs" style="left:925.7px;top:722.6px;width:359.5px;height:7.8px;border-radius:4px;background:#b3b0ad"></div>
</body></html>
